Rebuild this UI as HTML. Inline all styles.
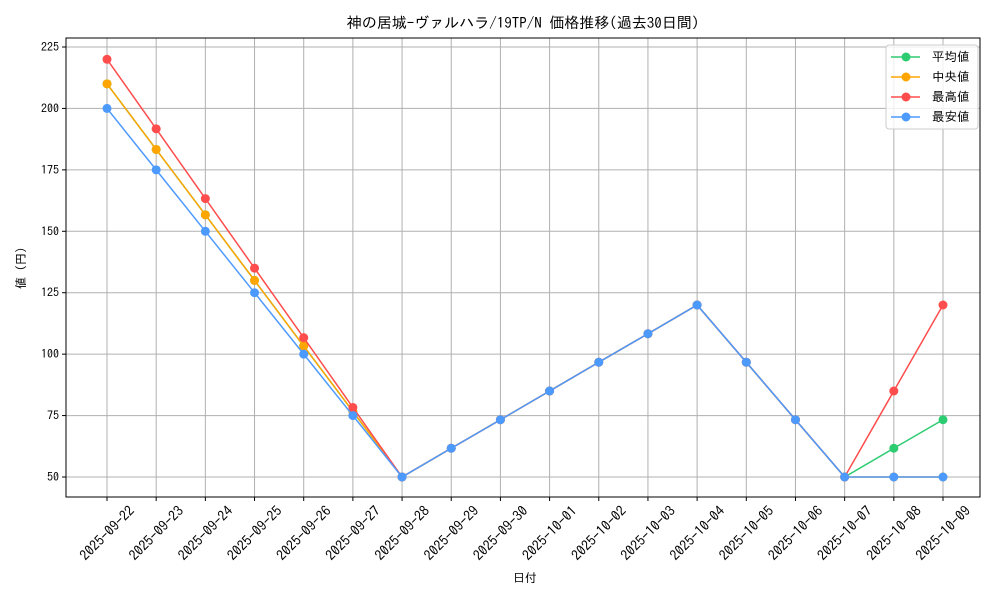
<!DOCTYPE html>
<html><head><meta charset="utf-8"><style>
body{margin:0;background:#fff}
svg text{font-family:"IPAGothic","Noto Sans CJK JP",sans-serif;fill:#000}
</style></head><body>
<svg id="c" width="1000" height="600"></svg>
<script>
const categories=["2025-09-22","2025-09-23","2025-09-24","2025-09-25","2025-09-26","2025-09-27","2025-09-28","2025-09-29","2025-09-30","2025-10-01","2025-10-02","2025-10-03","2025-10-04","2025-10-05","2025-10-06","2025-10-07","2025-10-08","2025-10-09"];
const avgValues=[210,183.3,156.7,130,103.3,76.7,50,61.7,73.3,85,96.7,108.3,120,96.7,73.3,50,61.7,73.3];
const medianValues=[210,183.3,156.7,130,103.3,76.7,50,61.7,73.3,85,96.7,108.3,120,96.7,73.3,50,50,50];
const maxValues=[220,191.7,163.3,135,106.7,78.3,50,61.7,73.3,85,96.7,108.3,120,96.7,73.3,50,85,120];
const minValues=[200,175,150,125,100,75,50,61.7,73.3,85,96.7,108.3,120,96.7,73.3,50,50,50];
const yTicks=[50,75,100,125,150,175,200,225];
const seriesNames=["平均値","中央値","最高値","最安値"];
const colors=["#2ecc71","#ffa500","#ff4d4d","#4d9aff"];
const svg=document.getElementById('c');const NS="http://www.w3.org/2000/svg";
function mk(t,a,p){const e=document.createElementNS(NS,t);for(const k in a)e.setAttribute(k,a[k]);(p||svg).appendChild(e);return e;}
const L=66,R=980,T=38,B=497;
const x=i=>107+i*(943-107)/(categories.length-1);
const y=v=>477+(v-50)*(47-477)/175;
categories.forEach((c,i)=>{
 const g=mk('line',{x1:x(i),x2:x(i),y1:T,y2:B,stroke:'#b0b0b0','stroke-width':1});
 
 mk('line',{x1:x(i),x2:x(i),y1:B,y2:B+4,stroke:'#000'});
 const ax=x(i),ay=B+36;
 const t=mk('text',{x:ax,y:ay,'font-size':14,'text-anchor':'middle','dominant-baseline':'central',transform:`rotate(-45 ${ax} ${ay})`});
 t.textContent=c;
});
yTicks.forEach(v=>{
 const g=mk('line',{x1:L,x2:R,y1:y(v),y2:y(v),stroke:'#b0b0b0','stroke-width':1});
 
 mk('line',{x1:L-4,x2:L,y1:y(v),y2:y(v),stroke:'#000'});
 const t=mk('text',{x:L-7,y:y(v)+4,'font-size':12,'text-anchor':'end'});
 t.textContent=v;
});
mk('rect',{x:L,y:T,width:R-L,height:B-T,fill:'none',stroke:'#000','stroke-width':1});
[avgValues,medianValues,maxValues,minValues].forEach((vals,s)=>{
 const p=mk('polyline',{points:vals.map((v,i)=>x(i)+','+y(v)).join(' '),fill:'none',stroke:colors[s],'stroke-width':1.5});
 
 vals.forEach((v,i)=>{const c=mk('circle',{cx:x(i),cy:y(v),r:4.5,fill:colors[s]});
 });
});
const tt=mk('text',{x:523,y:28,'font-size':15,'text-anchor':'middle'});

tt.textContent="神の居城-ヴァルハラ/19TP/N 価格推移(過去30日間)";
const xt=mk('text',{x:525,y:582,'font-size':12,'text-anchor':'middle'});
xt.textContent="日付";
const yt=mk('text',{x:25,y:268,'font-size':12,'text-anchor':'middle',transform:'rotate(-90 25 268)'});
yt.textContent="値 (円)";
const lg=mk('g',{});
mk('rect',{x:886,y:45,width:92,height:84,rx:3,fill:'#fff','fill-opacity':0.8,stroke:'#ccc'},lg);
seriesNames.forEach((n,s)=>{const yy=57+s*20;
 const e=mk('g',{},lg);
 mk('line',{x1:891,x2:920,y1:yy,y2:yy,stroke:colors[s],'stroke-width':1.5},e);
 mk('circle',{cx:906,cy:yy,r:4.5,fill:colors[s]},e);
 const t=mk('text',{x:932,y:yy+4,'font-size':12.5},e);t.textContent=n;});
</script></body></html>
